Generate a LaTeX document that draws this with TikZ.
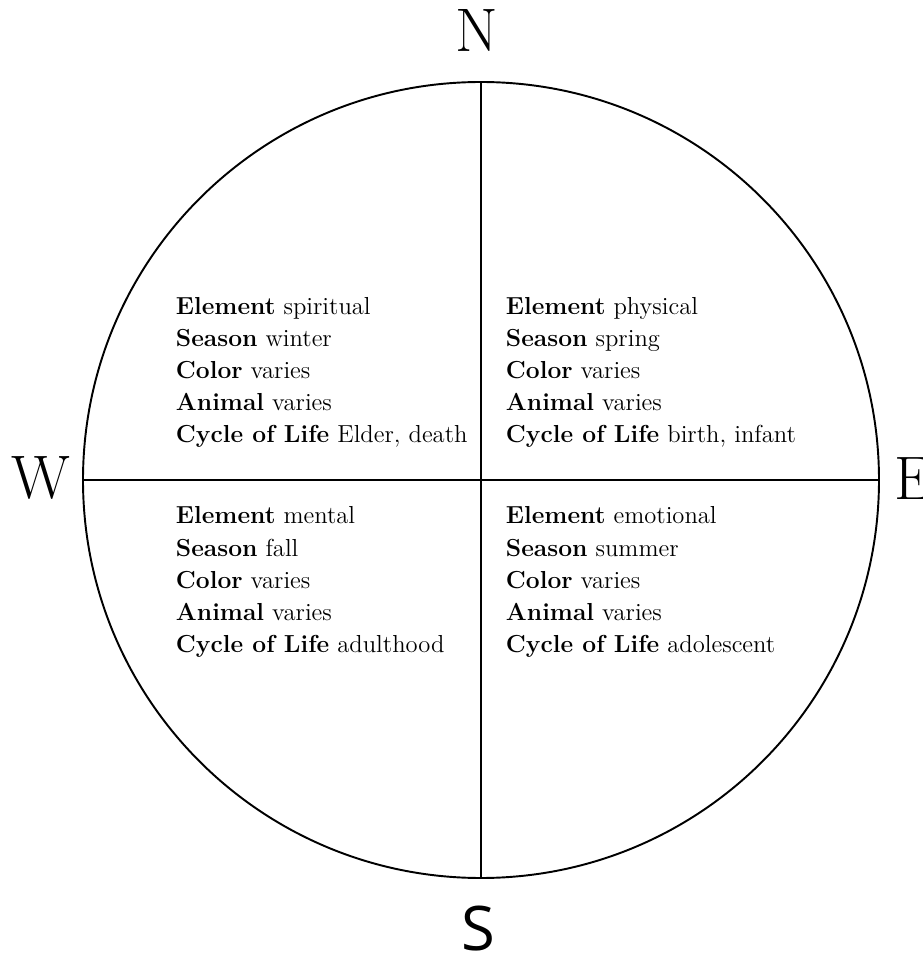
\documentclass[tikz,border=0pt]{standalone}
\usepackage{fontspec}
\newfontfamily\letterfont{Open Sans}
\usetikzlibrary{positioning}
\begin{document}
\begin{tikzpicture}[x=1cm,y=1cm,line width=1.1pt,
    entry/.style={anchor=base west,inner sep=0pt,font=\fontsize{14}{17}\selectfont},
    point/.style={inner sep=0pt,font=\fontsize{35}{40}\selectfont}]
    \useasboundingbox (-9.62,-9.54) rectangle (8.82,9.6);
    \def\dy{0.64}
    % the wheel and its cross
    \node[circle,draw,minimum size=15.92cm,inner sep=0pt] (wheel) at (0,0) {};
    \draw (wheel.north) -- (wheel.south);
    \draw (wheel.west) -- (wheel.east);
    % directions
    \node[point] (lblN) at (-0.08,8.98) {N};
    \node[point] (lblW) at (-8.8,0.04) {W};
    \node[point,anchor=west] (lblE) at (8.26,0.03) {E};
    \node[point,font=\fontsize{35}{40}\letterfont] (lblS) at (-0.06,-8.98) {S};
    % quadrants
    \foreach \key/\val [count=\i] in {Element/spiritual,Season/winter,Color/varies,Animal/varies,Cycle of Life/{Elder, death}}
        \node[entry] (nw\i) at (-6.12,{3.30-\dy*(\i-1)}) {\textbf{\key} \val};
    \foreach \key/\val [count=\i] in {Element/physical,Season/spring,Color/varies,Animal/varies,Cycle of Life/{birth, infant}}
        \node[entry] (ne\i) at (0.48,{3.30-\dy*(\i-1)}) {\textbf{\key} \val};
    \foreach \key/\val [count=\i] in {Element/mental,Season/fall,Color/varies,Animal/varies,Cycle of Life/adulthood}
        \node[entry] (sw\i) at (-6.12,{-0.88-\dy*(\i-1)}) {\textbf{\key} \val};
    \foreach \key/\val [count=\i] in {Element/emotional,Season/summer,Color/varies,Animal/varies,Cycle of Life/adolescent}
        \node[entry] (se\i) at (0.48,{-0.88-\dy*(\i-1)}) {\textbf{\key} \val};
\end{tikzpicture}
\end{document}
